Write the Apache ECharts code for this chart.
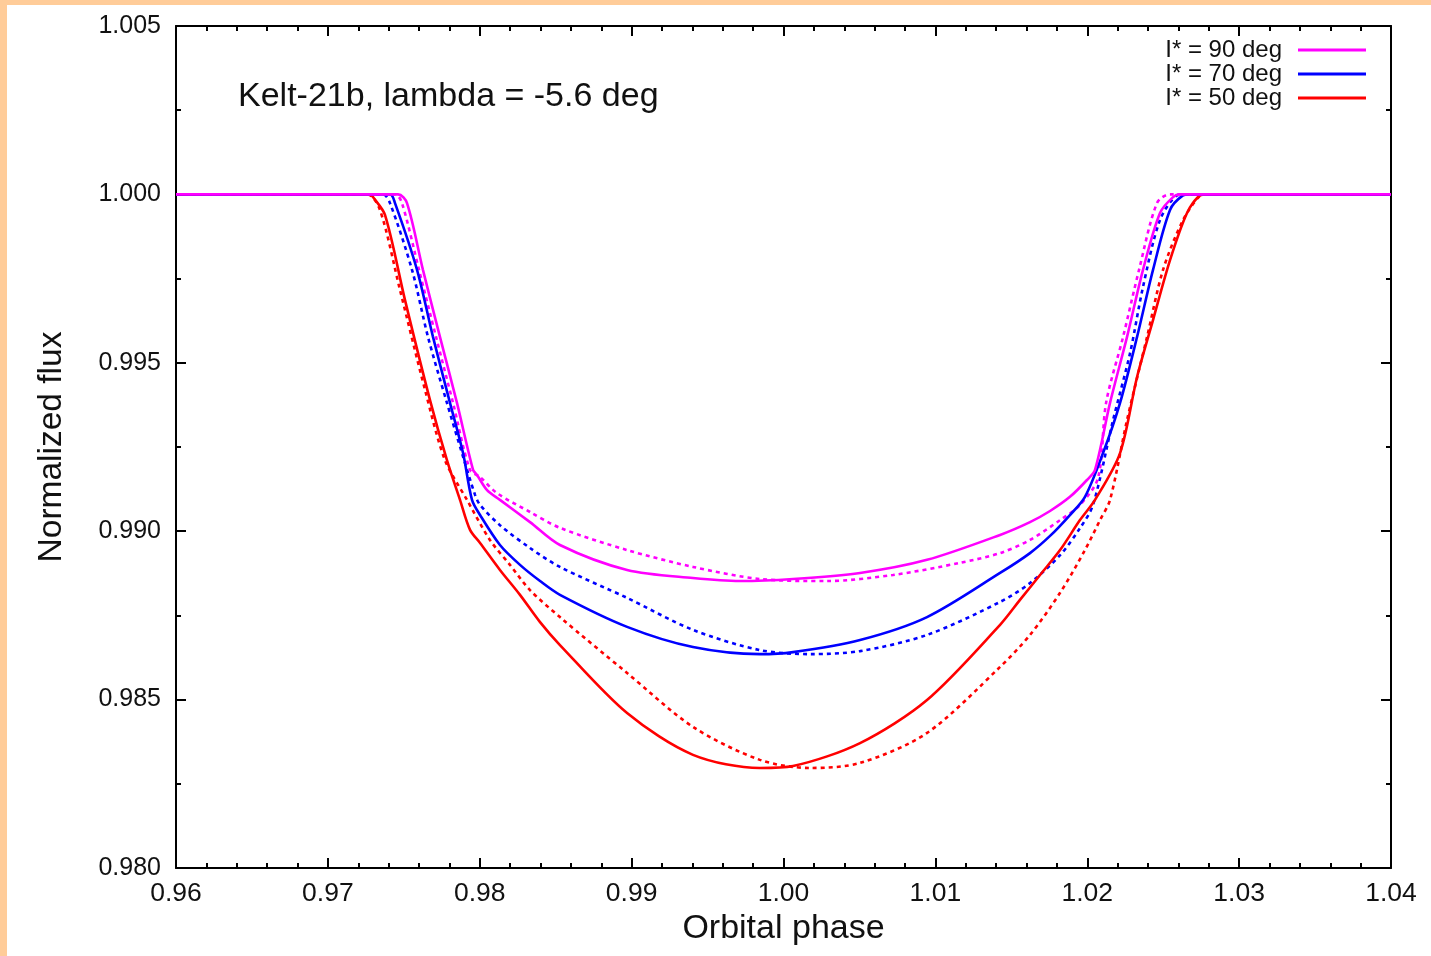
<!DOCTYPE html>
<html>
<head>
<meta charset="utf-8">
<script src="https://cdn.jsdelivr.net/npm/echarts@6/dist/echarts.min.js"></script>
<style>
  html, body { margin: 0; padding: 0; background: #FFCC99; width: 1431px; height: 956px; overflow: hidden; }
  #chart { position: absolute; left: 7px; top: 5px; width: 1424px; height: 951px; background: #ffffff; }
</style>
</head>
<body>
<div id="chart"></div>
<script>
// ---- Data (phase, normalized flux) ----
const titleText = 'Kelt-21b, lambda = -5.6 deg';
const legendNames = ['I* = 90 deg', 'I* = 70 deg', 'I* = 50 deg'];
const xTickMin = 0.96, xTickMax = 1.04, xTickStep = 0.01;
const yTickMin = 0.980, yTickMax = 1.005, yTickStep = 0.005;

const i90Solid = [
  [0.96, 1.0], [0.97462, 1.0], [0.97521, 0.99974], [0.97626, 0.99776], [0.97738, 0.99577],
  [0.97850, 0.99381], [0.97956, 0.99182], [0.97982, 0.99167], [0.98048, 0.99122],
  [0.98133, 0.99093], [0.98331, 0.99027], [0.98528, 0.98959], [0.98970, 0.98885],
  [0.99404, 0.98861], [0.99714, 0.98852], [1.00063, 0.98858], [1.00504, 0.98876],
  [1.00945, 0.98915], [1.01426, 0.98989], [1.01623, 0.99027], [1.01755, 0.99060],
  [1.01886, 0.99102], [1.01998, 0.99152], [1.02051, 0.99182], [1.02150, 0.99381],
  [1.02262, 0.99577], [1.02367, 0.99776], [1.02479, 0.99945], [1.02565, 0.99992],
  [1.02611, 1.0], [1.04, 1.0]
];
const i90Dotted = [
  [0.96, 1.0], [0.97442, 1.0], [0.97488, 0.99974], [0.97600, 0.99776], [0.97712, 0.99577],
  [0.97824, 0.99381], [0.97936, 0.99182], [0.98002, 0.99161], [0.98114, 0.99113],
  [0.98331, 0.99057], [0.98528, 0.99010], [0.98970, 0.98944], [0.99404, 0.98894],
  [0.99845, 0.98858], [1.00286, 0.98852], [1.00721, 0.98870], [1.01162, 0.98906],
  [1.01426, 0.98935], [1.01623, 0.98974], [1.01821, 0.99033], [1.01952, 0.99078],
  [1.02071, 0.99158], [1.02124, 0.99381], [1.02236, 0.99577], [1.02341, 0.99776],
  [1.02459, 0.99974], [1.02545, 1.0], [1.04, 1.0]
];
const i70Solid = [
  [0.96, 1.0], [0.97409, 1.0], [0.97442, 0.99974], [0.97587, 0.99776], [0.97692, 0.99577],
  [0.97804, 0.99381], [0.97890, 0.99232], [0.97949, 0.99093], [0.98002, 0.99048],
  [0.98133, 0.98959], [0.98265, 0.98900], [0.98397, 0.98852], [0.98528, 0.98811],
  [0.98970, 0.98716], [0.99404, 0.98656], [0.99845, 0.98635], [1.00063, 0.98641],
  [1.00504, 0.98677], [1.00945, 0.98745], [1.01426, 0.98876], [1.01623, 0.98935],
  [1.01755, 0.98986], [1.01886, 0.99048], [1.01985, 0.99102], [1.02104, 0.99232],
  [1.02216, 0.99381], [1.02328, 0.99577], [1.02433, 0.99776], [1.02545, 0.99954],
  [1.02630, 0.99997], [1.02670, 1.0], [1.04, 1.0]
];
const i70Dotted = [
  [0.96, 1.0], [0.97363, 1.0], [0.97409, 0.99974], [0.97554, 0.99776], [0.97659, 0.99577],
  [0.97784, 0.99381], [0.97883, 0.99232], [0.97969, 0.99108], [0.98002, 0.99078],
  [0.98133, 0.99018], [0.98331, 0.98950], [0.98528, 0.98894], [0.98970, 0.98802],
  [0.99404, 0.98707], [0.99845, 0.98647], [1.00175, 0.98635], [1.00504, 0.98644],
  [1.00945, 0.98692], [1.01426, 0.98790], [1.01623, 0.98846], [1.01821, 0.98929],
  [1.01952, 0.99009], [1.02038, 0.99078], [1.02170, 0.99330], [1.02282, 0.99529],
  [1.02367, 0.99725], [1.02479, 0.99924], [1.02591, 0.99997], [1.02644, 1.0], [1.04, 1.0]
];
const i50Solid = [
  [0.96, 1.0], [0.97277, 1.0], [0.97297, 0.99992], [0.97376, 0.99939], [0.97508, 0.99686],
  [0.97672, 0.99390], [0.97784, 0.99211], [0.97870, 0.99093], [0.97936, 0.99004],
  [0.98002, 0.98965], [0.98133, 0.98885], [0.98265, 0.98811], [0.98397, 0.98730],
  [0.98528, 0.98662], [0.98970, 0.98460], [0.99404, 0.98336], [0.99845, 0.98297],
  [1.00063, 0.98303], [1.00504, 0.98371], [1.00945, 0.98499], [1.01426, 0.98722],
  [1.01557, 0.98796], [1.01689, 0.98870], [1.01821, 0.98944], [1.01952, 0.99033],
  [1.02051, 0.99093], [1.02216, 0.99232], [1.02328, 0.99458], [1.02433, 0.99627],
  [1.02545, 0.99805], [1.02657, 0.99945], [1.02743, 0.99997], [1.02790, 1.0], [1.04, 1.0]
];
const i50Dotted = [
  [0.96, 1.0], [0.97258, 1.0], [0.97343, 0.99954], [0.97475, 0.99716], [0.97640, 0.99419],
  [0.97771, 0.99211], [0.97916, 0.99093], [0.98067, 0.98974], [0.98199, 0.98900],
  [0.98331, 0.98825], [0.98528, 0.98745], [0.98970, 0.98579], [0.99404, 0.98419],
  [0.99845, 0.98321], [1.00175, 0.98297], [1.00504, 0.98312], [1.00945, 0.98401],
  [1.01426, 0.98597], [1.01623, 0.98692], [1.01821, 0.98817], [1.01985, 0.98944],
  [1.02084, 0.99033], [1.02150, 0.99093], [1.02262, 0.99330], [1.02394, 0.99577],
  [1.02499, 0.99776], [1.02631, 0.99924], [1.02743, 0.99997], [1.02776, 1.0], [1.04, 1.0]
];

const colMag = '#FF00FF', colBlue = '#0000FF', colRed = '#FF0000';
const FONT = '"Liberation Sans", Arial, Helvetica, sans-serif';

const chart = echarts.init(document.getElementById('chart'), null, { renderer: 'canvas' });

function lineSeries(name, data, color, dotted, inLegend) {
  return {
    name: inLegend ? name : name + ' (dotted)',
    type: 'line',
    data: data,
    xAxisIndex: 0, yAxisIndex: 0,
    symbol: 'none',
    showSymbol: false,
    smooth: 0.3,
    clip: true,
    lineStyle: { color: color, width: 2.6, type: dotted ? [4, 4] : 'solid' },
    itemStyle: { color: color },
    emphasis: { disabled: true },
    z: dotted ? 2 : 3
  };
}

const axisCommon = {
  axisLine: { show: true, onZero: false, lineStyle: { color: '#000', width: 2 } },
  splitLine: { show: false },
};
const tickStyle = { show: true, inside: true, length: 10, lineStyle: { color: '#000', width: 2 } };

chart.setOption({
  animation: false,
  backgroundColor: '#ffffff',
  textStyle: { fontFamily: FONT },
  title: {
    text: titleText,
    left: 226, top: 70,
    textStyle: { fontSize: 34, fontWeight: 'normal', color: '#111', fontFamily: FONT }
  },
  legend: {
    data: legendNames,
    orient: 'vertical',
    right: 60, top: 28,
    align: 'right',
    icon: 'rect',
    itemWidth: 68, itemHeight: 3, itemGap: 0,
    textStyle: { fontSize: 24, lineHeight: 23.5, color: '#111', fontFamily: FONT, padding: [0, 11, 0, 0] }
  },
  grid: { left: 169, top: 21, right: 40, bottom: 88, containLabel: false, outerBoundsMode: 'none' },
  xAxis: [
    Object.assign({}, axisCommon, {
      type: 'value', min: xTickMin, max: xTickMax, interval: xTickStep, position: 'bottom',
      name: 'Orbital phase', nameLocation: 'middle', nameGap: 44,
      nameTextStyle: { fontSize: 34, color: '#111', fontFamily: FONT },
      axisTick: tickStyle,
      minorTick: { show: true, splitNumber: 5, length: 5, lineStyle: { color: '#000', width: 2 } },
      axisLabel: { fontSize: 26.5, color: '#111', margin: 12, formatter: v => v.toFixed(2) }
    }),
    Object.assign({}, axisCommon, {
      type: 'value', min: xTickMin, max: xTickMax, interval: xTickStep, position: 'top',
      axisTick: tickStyle,
      minorTick: { show: true, splitNumber: 5, length: 5, lineStyle: { color: '#000', width: 2 } },
      axisLabel: { show: false }
    })
  ],
  yAxis: [
    Object.assign({}, axisCommon, {
      type: 'value', min: yTickMin, max: yTickMax, interval: yTickStep, position: 'left',
      name: 'Normalized flux', nameLocation: 'middle', nameGap: 107, nameRotate: 90,
      nameTextStyle: { fontSize: 33.5, color: '#111', fontFamily: FONT },
      axisTick: tickStyle,
      minorTick: { show: true, splitNumber: 2, length: 5, lineStyle: { color: '#000', width: 2 } },
      axisLabel: { fontSize: 25, color: '#111', margin: 15, formatter: v => v.toFixed(3) }
    }),
    Object.assign({}, axisCommon, {
      type: 'value', min: yTickMin, max: yTickMax, interval: yTickStep, position: 'right',
      axisTick: tickStyle,
      minorTick: { show: true, splitNumber: 2, length: 5, lineStyle: { color: '#000', width: 2 } },
      axisLabel: { show: false }
    })
  ],
  series: [
    lineSeries(legendNames[2], i50Dotted, colRed, true, false),
    lineSeries(legendNames[1], i70Dotted, colBlue, true, false),
    lineSeries(legendNames[0], i90Dotted, colMag, true, false),
    lineSeries(legendNames[2], i50Solid, colRed, false, true),
    lineSeries(legendNames[1], i70Solid, colBlue, false, true),
    lineSeries(legendNames[0], i90Solid, colMag, false, true)
  ]
});
</script>
</body>
</html>
